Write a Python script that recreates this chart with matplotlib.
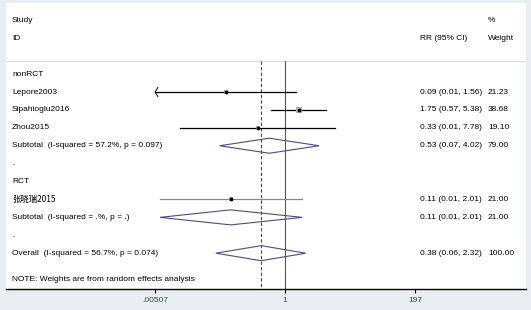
import numpy as np
import matplotlib.pyplot as plt
from matplotlib.transforms import blended_transform_factory

plt.rcParams['font.family'] = ['Liberation Sans', 'DejaVu Sans']

# studies (rows in the plot)
study = ["Lepore2003", "Sipahioglu2016", "Zhou2015", "张晓瑞2015"]
study_row = [1, 2, 3, 7]
rr = [0.09, 1.75, 0.33, 0.11]
ci_lo = [0.004, 0.57, 0.014, 0.0062]   # as drawn
ci_hi = [1.56, 5.38, 7.78, 2.01]
weight = [21.23, 38.68, 19.10, 21.00]
rr_txt = ["0.09 (0.01, 1.56)", "1.75 (0.57, 5.38)", "0.33 (0.01, 7.78)", "0.11 (0.01, 2.01)"]

# pooled estimates (diamonds)
pool_lbl = ["Subtotal  (I-squared = 57.2%, p = 0.097)",
            "Subtotal  (I-squared = .%, p = .)",
            "Overall  (I-squared = 56.7%, p = 0.074)"]
pool_row = [4, 8, 10]
pool_rr = [0.53, 0.11, 0.38]
pool_lo = [0.07, 0.0062, 0.06]
pool_hi = [4.02, 2.01, 2.32]
pool_w = [79.00, 21.00, 100.00]
pool_txt = ["0.53 (0.07, 4.02)", "0.11 (0.01, 2.01)", "0.38 (0.06, 2.32)"]

groups = ["nonRCT", "RCT"]
group_row = [0, 6]
dot_row = [5, 9]

xticks = [0.00507, 1, 197]
xticklabels = [".00507", "1", "197"]
xmin_scale = 0.00507

fig = plt.figure(figsize=(5.31, 3.10), dpi=100)
fig.patch.set_facecolor('#e8eef2')
ax = fig.add_axes([6/531, 21/310, 520/531, 286/310])
ax.set_facecolor('white')
ax.set_xscale('log')
ax.set_xlim(10**-4.929, 10**4.258)
ax.set_ylim(12.0, -3.97)

for s in ['top', 'right', 'left']:
    ax.spines[s].set_visible(False)
ax.spines['bottom'].set_linewidth(1.0)
ax.set_yticks([])
ax.set_xticks(xticks)
ax.set_xticklabels(xticklabels, fontsize=6, color='#3d4a3d')
ax.minorticks_off()
ax.tick_params(axis='x', length=3, width=0.8, pad=3)

sep = -0.73
ax.axhline(sep, color='#dcdcdc', lw=0.8)
ax.plot([1, 1], [sep, 12.0], color='#555555', lw=0.8)
ax.plot([pool_rr[2], pool_rr[2]], [sep, 12.0], color='#7a3030', lw=0.8,
        linestyle=(0, (3, 2)))

# study lines
for i in range(len(study)):
    lo = max(ci_lo[i], xmin_scale)
    col = '#888888' if i == 3 else 'black'
    ax.plot([lo, ci_hi[i]], [study_row[i]] * 2, color=col, lw=0.9)
    if ci_lo[i] < xmin_scale:
        ax.plot([lo * 1.12, lo, lo * 1.12], [study_row[i] - 0.25, study_row[i], study_row[i] + 0.25],
                color='black', lw=0.7)
    ax.scatter([rr[i]], [study_row[i]], marker='s', s=weight[i] * 0.5,
               color='#b0b0b0', zorder=3, linewidths=0)
    ax.scatter([rr[i]], [study_row[i]], marker='o', s=3, color='black', zorder=4)

# diamonds
for i in range(len(pool_rr)):
    r = pool_row[i]
    ax.fill([pool_lo[i], pool_rr[i], pool_hi[i], pool_rr[i]],
            [r, r - 0.42, r, r + 0.42], facecolor='none',
            edgecolor='#4b4b8c', lw=0.8, zorder=3)

# text
tr = blended_transform_factory(ax.transAxes, ax.transData)
xl, xrr, xw = 0.0115, 0.796, 0.927
fs = 6
cjk = ['Noto Sans CJK SC', 'Liberation Sans']
ax.text(xl, -3, "Study", transform=tr, fontsize=fs, va='center')
ax.text(xl, -2, "ID", transform=tr, fontsize=fs, va='center')
ax.text(xrr, -2, "RR (95% CI)", transform=tr, fontsize=fs, va='center')
ax.text(xw, -3, "%", transform=tr, fontsize=fs, va='center')
ax.text(xw, -2, "Weight", transform=tr, fontsize=fs, va='center')

for g, r in zip(groups, group_row):
    ax.text(xl, r, g, transform=tr, fontsize=fs, va='center')
for r in dot_row:
    ax.text(xl, r, ".", transform=tr, fontsize=fs, va='center')
for i in range(len(study)):
    fam = cjk if i == 3 else None
    ax.text(xl, study_row[i], study[i], transform=tr, fontsize=fs, va='center', family=fam)
    ax.text(xrr, study_row[i], rr_txt[i], transform=tr, fontsize=fs, va='center')
    ax.text(xw, study_row[i], "%.2f" % weight[i], transform=tr, fontsize=fs, va='center')
for i in range(len(pool_rr)):
    ax.text(xl, pool_row[i], pool_lbl[i], transform=tr, fontsize=fs, va='center')
    ax.text(xrr, pool_row[i], pool_txt[i], transform=tr, fontsize=fs, va='center')
    ax.text(xw, pool_row[i], "%.2f" % pool_w[i], transform=tr, fontsize=fs, va='center')

ax.text(xl, 11.45, "NOTE: Weights are from random effects analysis", transform=tr,
        fontsize=fs, va='center')

fig.savefig('out.png', dpi=100)
